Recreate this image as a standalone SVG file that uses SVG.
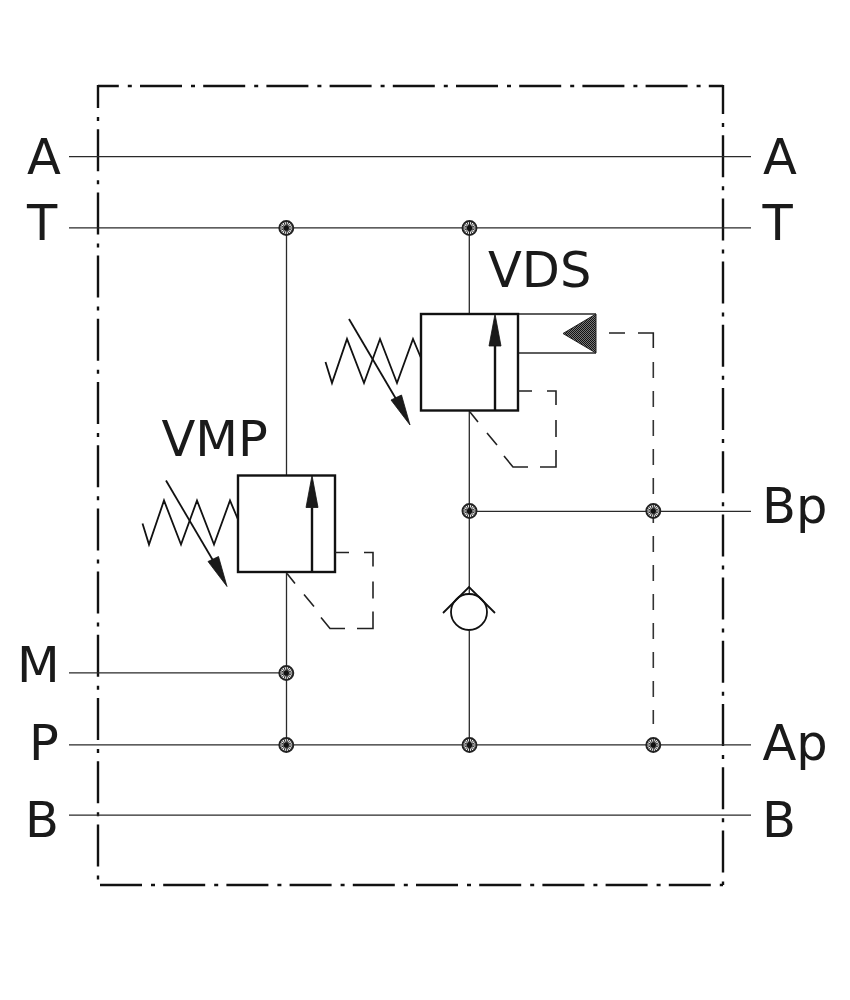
<svg xmlns="http://www.w3.org/2000/svg" xmlns:xlink="http://www.w3.org/1999/xlink" width="850" height="1000" viewBox="0 0 850 1000">
<style>
.thin{fill:none;stroke:#2a2a2a;stroke-width:1.3}
.frame{fill:none;stroke:#111;stroke-width:2.4;stroke-dasharray:42 9 4 8.200}
.box{fill:none;stroke:#111;stroke-width:2.4}
.sym{fill:none;stroke:#111;stroke-width:1.8}
.pilot{fill:none;stroke:#222;stroke-width:1.6}
.head{fill:#1a1a1a;stroke:#111;stroke-width:.8;stroke-linejoin:miter}
.dash{fill:none;stroke:#333;stroke-width:1.6;stroke-dasharray:16 13}
text{font-family:"DejaVu Sans",sans-serif;font-size:49.500px;fill:#1a1a1a}
</style>
<defs>
<pattern id="dots" width="2" height="2" patternUnits="userSpaceOnUse">
<rect width="2" height="2" fill="#777"/><rect width="1" height="1" fill="#111"/><rect x="1" y="1" width="1" height="1" fill="#111"/>
</pattern>
<g id="junction">
<circle r="7" fill="#fff" stroke="#222" stroke-width="1.9"/>
<path d="M-7 0H7M0-7V7M-5-5L5 5M-5 5L5-5M-6.500-2.700L6.500 2.700M-6.500 2.700L6.500-2.700M-2.700-6.500L2.700 6.500M2.700-6.500L-2.700 6.500" stroke="#222" stroke-width="1" fill="none"/>
<circle r="2.600" fill="#111"/>
</g>
<g id="valve">
<rect class="box" x="421" y="314" width="97" height="96.500"/>
<path class="box" d="M495 410V346"/>
<path class="head" d="M495 314L501 346H489Z"/>
<path class="sym" d="M325.500 362L332 383L347 339L364 383L380 339L397 383L413 339L421 358"/>
<path class="sym" d="M349 319L399 404"/>
<path class="head" d="M410 425L391 400L401.500 395Z"/>
<path class="pilot" d="M518 391H532M547 391H556V405M556 420V437M556 450V467H540M528 467H513L504 456M497 445L487 433M478 422L470 412"/>
</g>
</defs>
<g id="frame">
<line class="frame" x1="98" y1="86" x2="723" y2="86" stroke-dashoffset="21.200"/>
<line class="frame" x1="723" y1="85" x2="723" y2="885" stroke-dashoffset="13"/>
<line class="frame" x1="98" y1="85" x2="98" y2="885" stroke-dashoffset="19"/>
<line class="frame" x1="100" y1="885" x2="723" y2="885"/>
</g>
<g id="connectors">
<path class="thin" d="M69 156.700H751M69 227.800H751M69 672.800H286M69 744.800H751M69 815.100H751M469 511.300H751"/>
<path class="thin" d="M286.500 228V475M286.500 572V745M469.300 228V314M469.300 410V593M469.300 631V745"/>
<path class="thin" d="M518 314H596M518 353H596"/>
<path class="pilot" d="M609 333H625M638 333H653.300V348"/>
<path class="dash" d="M653.300 362V724"/>
</g>
<g id="pilot-triangle"><path d="M596 314V353L563 333.500Z" fill="url(#dots)" stroke="#222" stroke-width="1"/></g>
<g id="VDS"><use xlink:href="#valve"/><text x="488" y="287">VDS</text></g>
<g id="VMP"><use xlink:href="#valve" transform="translate(-183 161.500)"/><text x="161.500" y="456">VMP</text></g>
<g id="check-valve">
<circle class="sym" cx="469" cy="612" r="18"/>
<path class="sym" d="M443 613L469 587L495 613"/>
</g>
<g id="junctions">
<use xlink:href="#junction" x="286.300" y="228"/>
<use xlink:href="#junction" x="469.500" y="228"/>
<use xlink:href="#junction" x="469.500" y="511"/>
<use xlink:href="#junction" x="653.300" y="511"/>
<use xlink:href="#junction" x="286.300" y="673"/>
<use xlink:href="#junction" x="286.300" y="745"/>
<use xlink:href="#junction" x="469.500" y="745"/>
<use xlink:href="#junction" x="653.300" y="745"/>
</g>
<g id="ports">
<text x="27" y="174">A</text>
<text x="27" y="240">T</text>
<text x="17" y="682">M</text>
<text x="29" y="760">P</text>
<text x="25" y="837">B</text>
<text x="763" y="174">A</text>
<text x="762.500" y="240">T</text>
<text x="762" y="523">Bp</text>
<text x="762.500" y="760">Ap</text>
<text x="762" y="837">B</text>
</g>
</svg>
